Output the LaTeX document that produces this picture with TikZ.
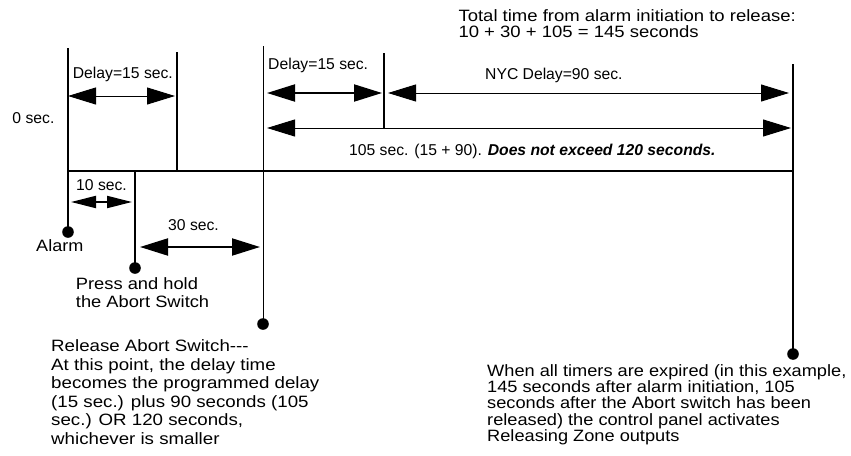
\documentclass[tikz,border=0pt]{standalone}
\usepackage{fontspec}
\setmainfont{Liberation Sans}
\usetikzlibrary{arrows.meta}
\newcommand\tightls{\lineskiplimit=-50pt\relax}
\begin{document}
\begin{tikzpicture}[x=1pt,y=-1pt,
  lbl/.style={inner sep=0pt, anchor=base west, font=\fontsize{15.7}{15.7}\selectfont},
  big/.style={inner sep=0pt, anchor=base west, align=left},
  dot/.style={circle, fill=black, inner sep=0pt, minimum size=11.6pt},
  thickline/.style={line width=2pt},
  thinline/.style={line width=1pt},
  dimarrow/.style={{Triangle[length=28pt,width=17pt]}-{Triangle[length=28pt,width=17pt]}},
  smallarrow/.style={{Triangle[length=25pt,width=12pt]}-{Triangle[length=25pt,width=12pt]}}
]
\useasboundingbox (0,0) rectangle (851,455);
% vertical lines and dots
\coordinate (a0) at (68,48);
\node[dot] (adot) at (68,232) {};
\draw[thickline] (a0) -- (adot.center);
\coordinate (d0) at (177,52);
\coordinate (d1) at (177,171);
\draw[thickline] (d0) -- (d1);
\coordinate (h0) at (67,171);
\coordinate (h1) at (794,171);
\draw[thickline] (h0) -- (h1);
\coordinate (p0) at (135,170);
\node[dot] (pdot) at (135,268) {};
\draw[thickline] (p0) -- (pdot.center);
\coordinate (r0) at (263,46);
\node[dot] (rdot) at (263,324) {};
\draw[thinline] (r0) -- (rdot.center);
\coordinate (m0) at (384,53);
\coordinate (m1) at (384,129);
\draw[thickline] (m0) -- (m1);
\coordinate (e0) at (793,64);
\node[dot] (edot) at (793,354) {};
\draw[thickline] (e0) -- (edot.center);
% dimension arrows
\coordinate (la) at (68,96);
\coordinate (lb) at (175,96);
\draw[thinline, dimarrow] (la) -- (lb);
\coordinate (ta) at (71,202);
\coordinate (tb) at (132,202);
\draw[thickline, smallarrow] (ta) -- (tb);
\coordinate (sa) at (140,247);
\coordinate (sb) at (260,247);
\draw[thickline, dimarrow] (sa) -- (sb);
\coordinate (ra) at (267,93);
\coordinate (rb) at (382,93);
\draw[thickline, dimarrow] (ra) -- (rb);
\coordinate (na) at (388,93);
\coordinate (nb) at (789,93);
\draw[thinline, dimarrow] (na) -- (nb);
\coordinate (fa) at (267,128);
\coordinate (fb) at (791,128);
\draw[thinline, dimarrow] (fa) -- (fb);
% labels
\node[lbl] (t0) at (12.3,123.3) {0 sec.};
\node[lbl] (tdl) at (72.7,78.7) {Delay=15 sec.};
\node[lbl] (tdr) at (268,69) {Delay=15 sec.};
\node[lbl] (tnyc) at (485,79.5) {NYC Delay=90 sec.};
\node[lbl] (t105) at (349,155) {105 sec. (15 + 90). \textbf{\textit{Does not exceed 120 seconds.}}};
\node[lbl] (t10) at (76,190) {10 sec.};
\node[lbl] (t30) at (168,230.7) {30 sec.};
\node[big, xscale=1.1, font=\fontsize{16.4}{16.4}\selectfont] (talarm) at (36,251.7) {Alarm};
\node[big, xscale=1.116, font=\fontsize{16.4}{18}\selectfont\tightls] (tpress) at (75.7,307.3) {Press and hold\\the Abort Switch};
\node[big, xscale=1.14, font=\fontsize{16.4}{18.5}\selectfont\tightls] (trel) at (51,444) {Release Abort Switch-{}-{}-\\At this point, the delay time\\becomes the programmed delay\\(15 sec.) plus 90 seconds (105\\sec.) OR 120 seconds,\\whichever is smaller};
\node[big, xscale=1.11, font=\fontsize{16.4}{16.3}\selectfont\tightls] (tend) at (487,441.5) {When all timers are expired (in this example,\\145 seconds after alarm initiation, 105\\seconds after the Abort switch has been\\released) the control panel activates\\Releasing Zone outputs};
\node[big, xscale=1.128, font=\fontsize{16.4}{16}\selectfont\tightls] (ttitle) at (458.3,37.7) {Total time from alarm initiation to release:\\10 + 30 + 105 = 145 seconds};
\end{tikzpicture}
\end{document}
